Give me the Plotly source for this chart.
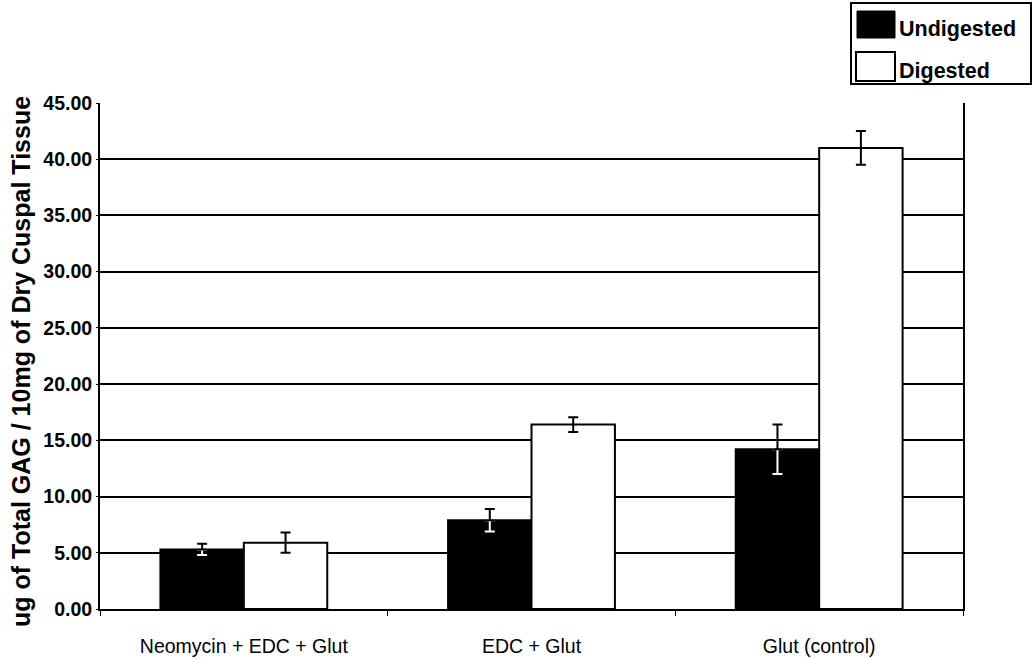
import plotly.graph_objects as go

# Group labels and measured GAG content (mean and error) per treatment
categories = ["Neomycin + EDC + Glut", "EDC + Glut", "Glut (control)"]
undigested = [5.3, 7.9, 14.2]
undigested_err = [0.5, 1.0, 2.2]
digested = [5.9, 16.4, 41.0]
digested_err = [0.9, 0.65, 1.5]
y_tick_values = [0, 5, 10, 15, 20, 25, 30, 35, 40, 45]
y_tick_labels = ["0.00", "5.00", "10.00", "15.00", "20.00", "25.00",
                 "30.00", "35.00", "40.00", "45.00"]
series_names = ["Undigested", "Digested"]
y_title = "ug of Total GAG / 10mg of Dry Cuspal Tissue"

W, H = 1035, 659
ML, MR, MT, MB = 100, 72, 103, 50
FONT = "Liberation Sans, Arial, sans-serif"


def px_x(x):
    return (x - ML) / (W - ML - MR)


def px_y(y):
    return (H - MB - y) / (H - MT - MB)


zeros = [0] * len(categories)
fig = go.Figure()

# Undigested bars (solid black)
fig.add_trace(go.Bar(
    x=categories, y=undigested, name=series_names[0], offsetgroup="u",
    marker=dict(color="black", line=dict(color="black", width=2)),
))
# Lower half of the undigested error bars, drawn white over the black bar
fig.add_trace(go.Bar(
    x=categories, y=undigested, offsetgroup="u", showlegend=False,
    marker=dict(color="rgba(0,0,0,0)", line=dict(width=0)),
    error_y=dict(type="data", symmetric=False, array=zeros,
                 arrayminus=undigested_err, color="white",
                 thickness=2, width=5),
    hoverinfo="skip",
))
# Upper half of the undigested error bars, black
fig.add_trace(go.Bar(
    x=categories, y=undigested, offsetgroup="u", showlegend=False,
    marker=dict(color="rgba(0,0,0,0)", line=dict(width=0)),
    error_y=dict(type="data", symmetric=False, array=undigested_err,
                 arrayminus=zeros, color="black", thickness=2, width=5),
    hoverinfo="skip",
))
# Digested bars (white with black outline)
fig.add_trace(go.Bar(
    x=categories, y=digested, name=series_names[1], offsetgroup="d",
    marker=dict(color="white", line=dict(color="black", width=2)),
    error_y=dict(type="data", array=digested_err, color="black",
                 thickness=2, width=5),
))

# Hand-built legend box with large swatches
shapes = [
    dict(type="rect", xref="paper", yref="paper",
         x0=px_x(851), x1=px_x(1031), y0=px_y(84), y1=px_y(3),
         line=dict(color="black", width=2), fillcolor="white"),
    dict(type="rect", xref="paper", yref="paper",
         x0=px_x(857), x1=px_x(895), y0=px_y(38), y1=px_y(11),
         line=dict(color="black", width=1), fillcolor="black"),
    dict(type="rect", xref="paper", yref="paper",
         x0=px_x(856), x1=px_x(895), y0=px_y(81), y1=px_y(52),
         line=dict(color="black", width=2), fillcolor="white"),
]
annotations = [
    dict(text=series_names[0], xref="paper", yref="paper", x=px_x(897),
         y=px_y(29), xanchor="left", yanchor="middle", showarrow=False,
         font=dict(family=FONT, size=21.5, color="black", weight="bold")),
    dict(text=series_names[1], xref="paper", yref="paper", x=px_x(897),
         y=px_y(71), xanchor="left", yanchor="middle", showarrow=False,
         font=dict(family=FONT, size=21.5, color="black", weight="bold")),
    # Vertical y-axis title
    dict(text=y_title, xref="paper", yref="paper", x=px_x(21),
         y=px_y(362), xanchor="center", yanchor="middle", textangle=-90,
         showarrow=False,
         font=dict(family=FONT, size=25, color="black", weight="bold")),
]

fig.update_layout(
    width=W, height=H,
    margin=dict(l=ML, r=MR, t=MT, b=MB, autoexpand=False),
    paper_bgcolor="white", plot_bgcolor="white",
    barmode="group", bargap=0.42, bargroupgap=0.0,
    showlegend=False,
    shapes=shapes, annotations=annotations,
    font=dict(family=FONT, color="black"),
)
fig.update_xaxes(
    type="category", showline=True, linecolor="black", linewidth=2,
    ticks="outside", tickson="boundaries", ticklen=5, tickwidth=1,
    tickcolor="black", showgrid=False, ticklabelstandoff=19,
    tickfont=dict(family=FONT, size=19.5, color="black"),
    automargin=False,
)
fig.update_yaxes(
    range=[0, 45], tickvals=y_tick_values, ticktext=y_tick_labels,
    showline=True, linecolor="black", linewidth=2, mirror=True,
    showgrid=True, gridcolor="black", gridwidth=2, zeroline=False,
    ticks="outside", ticklen=2, tickcolor="black",
    tickfont=dict(family=FONT, size=19.5, color="black", weight="bold"),
    automargin=False,
)

fig.write_html("out.html")
